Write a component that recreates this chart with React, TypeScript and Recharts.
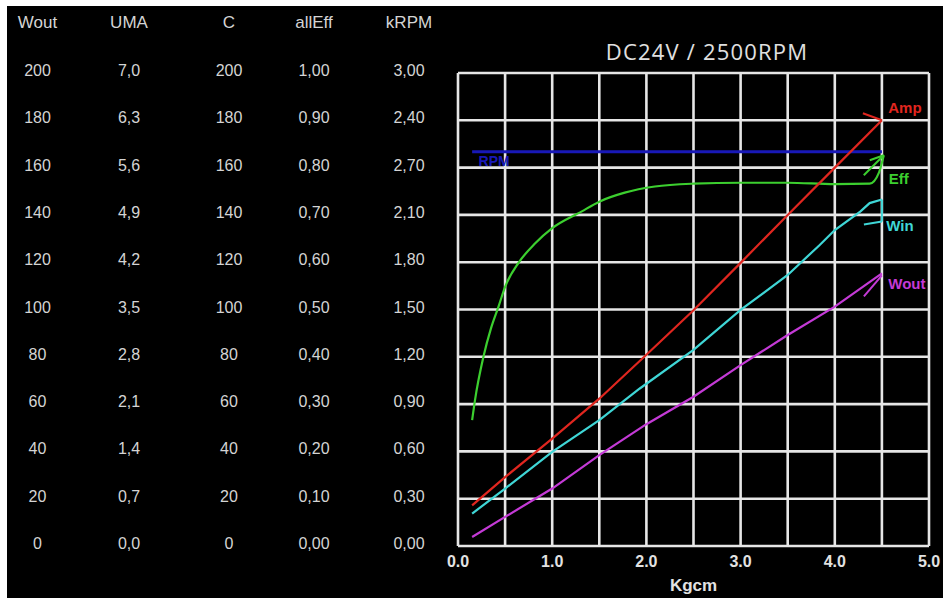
import { CartesianGrid, Line, LineChart, XAxis, YAxis } from 'recharts';

const torqueTicks = [0, 0.5, 1, 1.5, 2, 2.5, 3, 3.5, 4, 4.5, 5];

// left-hand "table" is really five stacked y axes
const woutTicks = [0, 20, 40, 60, 80, 100, 120, 140, 160, 180, 200];
const woutLabels = ['0', '20', '40', '60', '80', '100', '120', '140', '160', '180', '200'];
const umaTicks = [0, 0.7, 1.4, 2.1, 2.8, 3.5, 4.2, 4.9, 5.6, 6.3, 7];
const umaLabels = ['0,0', '0,7', '1,4', '2,1', '2,8', '3,5', '4,2', '4,9', '5,6', '6,3', '7,0'];
const cTicks = [0, 20, 40, 60, 80, 100, 120, 140, 160, 180, 200];
const cLabels = ['0', '20', '40', '60', '80', '100', '120', '140', '160', '180', '200'];
const effTicks = [0, 0.1, 0.2, 0.3, 0.4, 0.5, 0.6, 0.7, 0.8, 0.9, 1];
const effLabels = ['0,00', '0,10', '0,20', '0,30', '0,40', '0,50', '0,60', '0,70', '0,80', '0,90', '1,00'];
const krpmTicks = [0, 0.3, 0.6, 0.9, 1.2, 1.5, 1.8, 2.1, 2.4, 2.7, 3];
const krpmLabels = ['0,00', '0,30', '0,60', '0,90', '1,20', '1,50', '1,80', '2,10', '2,70', '2,40', '3,00'];

const ampTorque = [0.15, 0.5, 1.0, 1.5, 2.0, 2.5, 3.0, 3.5, 4.0, 4.5];
const ampValues = [0.6, 1.02, 1.59, 2.18, 2.83, 3.49, 4.19, 4.9, 5.6, 6.3];

const effTorque = [0.15, 0.18, 0.27, 0.35, 0.43, 0.5, 0.64, 0.82, 1.0, 1.31, 1.5, 1.77, 2.09, 2.5, 3.0, 3.5, 4.0, 4.37, 4.47, 4.52];
const effValues = [0.266, 0.308, 0.4, 0.46, 0.506, 0.548, 0.598, 0.64, 0.672, 0.707, 0.728, 0.747, 0.76, 0.766, 0.768, 0.768, 0.765, 0.766, 0.79, 0.826];

const winTorque = [0.15, 0.5, 1.0, 1.5, 1.93, 2.5, 3.0, 3.5, 3.84, 4.0, 4.27, 4.37, 4.5];
const winValues = [13.7, 24.3, 39.8, 53.2, 66.6, 82.9, 99.8, 114.6, 127.3, 133.6, 141.4, 145, 146.5];

const woutTorque = [0.15, 0.5, 1.0, 1.5, 2.0, 2.5, 3.0, 3.5, 4.0, 4.5];
const woutValues = [3.8, 12.3, 24.3, 38.4, 51.5, 63.1, 76.5, 89.2, 101.2, 115.3];

const rpmTorque = [0.15, 4.5];
const rpmValues = [2.5, 2.5];

const toPoints = (xs: number[], ys: number[]) => xs.map((kgcm, i) => ({ kgcm, value: ys[i] }));

const FONT = '"Liberation Sans", Arial, sans-serif';
const TICK_COLOR = '#d4d4d4';

function columnTick(labels: string[], colWidth: number) {
  return (props: any) => (
    <text
      x={props.x - colWidth / 2}
      y={props.y}
      dy={3}
      textAnchor="middle"
      fill={TICK_COLOR}
      fontSize={16}
      fontFamily={FONT}
    >
      {labels[props.index]}
    </text>
  );
}

type Note = {
  text: string;
  color: string;
  first?: boolean;
  dx: number;
  dy: number;
  size?: number;
  barbs: number[][];
};

function noteDot(note: Note, count: number) {
  const target = note.first ? 0 : count - 1;
  return (props: any) => {
    const { cx, cy, index } = props;
    if (index !== target) return <g key={`d${index}`} />;
    return (
      <g key={`d${index}`}>
        {note.barbs.map(([x1, y1, x2, y2], i) => (
          <line key={i} x1={cx + x1} y1={cy + y1} x2={cx + x2} y2={cy + y2} stroke={note.color} strokeWidth={2} />
        ))}
        <text
          x={cx + note.dx}
          y={cy + note.dy}
          textAnchor="middle"
          dominantBaseline="central"
          fill={note.color}
          fontSize={note.size ?? 15}
          fontWeight="bold"
          fontFamily={FONT}
        >
          {note.text}
        </text>
      </g>
    );
  };
}

// ids sort innermost -> outermost (recharts stacks left axes by id)
const yAxes = [
  { id: 'y1', name: 'kRPM', width: 98, ticks: krpmTicks, labels: krpmLabels },
  { id: 'y2', name: 'allEff', width: 92, ticks: effTicks, labels: effLabels },
  { id: 'y3', name: 'C', width: 78, ticks: cTicks, labels: cLabels },
  { id: 'y4', name: 'UMA', width: 122, ticks: umaTicks, labels: umaLabels },
  { id: 'y5', name: 'Wout', width: 61, ticks: woutTicks, labels: woutLabels }
];

export default function App() {
  const red = '#e0261f';
  const green = '#3ccf2f';
  const cyan = '#3fd6d6';
  const magenta = '#c43ad6';
  const blue = '#1818b8';

  return (
    <>
      <style>{'body{margin:0;overflow:hidden}'}</style>
      <div style={{ position: 'absolute', left: 7, top: 6, width: 936, height: 592, background: '#000' }}>
        <div
          style={{
            position: 'absolute',
            left: 500,
            top: 33,
            width: 400,
            textAlign: 'center',
            lineHeight: '24px',
            fontFamily: '"Open Sans", sans-serif',
            fontSize: 22,
            letterSpacing: 1.2,
            color: '#e0e0e0'
          }}
        >
          DC24V / 2500RPM
        </div>
        <LineChart width={936} height={592} margin={{ top: 67, right: 14, bottom: 0, left: 0 }}>
          <CartesianGrid xAxisId="kgcm" yAxisId="y5" stroke="#e6e6e6" strokeWidth={2.6} />
          <XAxis
            xAxisId="kgcm"
            dataKey="kgcm"
            type="number"
            domain={[0, 5]}
            ticks={torqueTicks}
            interval={0}
            height={52}
            axisLine={false}
            tickLine={false}
            tickSize={0}
            tickMargin={10}
            tickFormatter={(v: number) => (v % 1 === 0 ? v.toFixed(1) : '')}
            tick={{ fill: '#e2e2e2', fontSize: 16, fontWeight: 'bold', fontFamily: FONT }}
            label={{
              value: 'Kgcm',
              position: 'insideBottom',
              offset: 7,
              fill: '#e2e2e2',
              fontSize: 17,
              fontWeight: 'bold',
              fontFamily: FONT
            }}
          />
          {yAxes.map((a) => (
            <YAxis
              key={a.id}
              yAxisId={a.id}
              orientation="left"
              type="number"
              width={a.width}
              domain={[0, a.ticks[a.ticks.length - 1]]}
              ticks={a.ticks}
              interval={0}
              axisLine={false}
              tickLine={false}
              tickSize={0}
              tickMargin={0}
              tick={columnTick(a.labels, a.width)}
              label={{
                value: a.name,
                position: 'top',
                offset: 45,
                fill: TICK_COLOR,
                fontSize: 17,
                fontFamily: FONT
              }}
            />
          ))}
          <Line
            data={toPoints(rpmTorque, rpmValues)}
            dataKey="value"
            xAxisId="kgcm"
            yAxisId="y1"
            type="linear"
            stroke={blue}
            strokeWidth={3}
            dot={noteDot({ text: 'RPM', color: blue, first: true, dx: 22, dy: 9, size: 14, barbs: [] }, rpmTorque.length)}
            activeDot={false}
            isAnimationActive={false}
          />
          <Line
            data={toPoints(effTorque, effValues)}
            dataKey="value"
            xAxisId="kgcm"
            yAxisId="y2"
            type="monotone"
            stroke={green}
            strokeWidth={2.2}
            dot={noteDot(
              { text: 'Eff', color: green, dx: 15, dy: 23, barbs: [[0, 0, -20, 20], [0, 0, -14, 5]] },
              effTorque.length
            )}
            activeDot={false}
            isAnimationActive={false}
          />
          <Line
            data={toPoints(ampTorque, ampValues)}
            dataKey="value"
            xAxisId="kgcm"
            yAxisId="y4"
            type="linear"
            stroke={red}
            strokeWidth={2.2}
            dot={noteDot({ text: 'Amp', color: red, dx: 23, dy: -13, barbs: [[0, 0, -19, -7]] }, ampTorque.length)}
            activeDot={false}
            isAnimationActive={false}
          />
          <Line
            data={toPoints(winTorque, winValues)}
            dataKey="value"
            xAxisId="kgcm"
            yAxisId="y3"
            type="linear"
            stroke={cyan}
            strokeWidth={2.2}
            dot={noteDot(
              { text: 'Win', color: cyan, dx: 18, dy: 26, barbs: [[0, 0, 0, 22], [0, 22, -18, 25]] },
              winTorque.length
            )}
            activeDot={false}
            isAnimationActive={false}
          />
          <Line
            data={toPoints(woutTorque, woutValues)}
            dataKey="value"
            xAxisId="kgcm"
            yAxisId="y5"
            type="linear"
            stroke={magenta}
            strokeWidth={2.2}
            dot={noteDot({ text: 'Wout', color: magenta, dx: 25, dy: 10, barbs: [[0, 2, -18, 23]] }, woutTorque.length)}
            activeDot={false}
            isAnimationActive={false}
          />
        </LineChart>
      </div>
    </>
  );
}
